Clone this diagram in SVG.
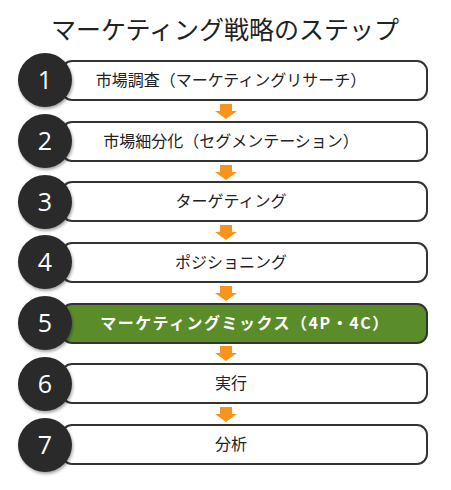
<svg xmlns="http://www.w3.org/2000/svg" width="451" height="490" viewBox="0 0 451 490">
<defs>
<style>
.box{fill:#fff;stroke:#333;stroke-width:2}
.box.g{fill:#5b8c2a;stroke:#333}
.c{fill:#2a2a2a}
.num{fill:#fff;font-family:"Open Sans","DejaVu Sans",sans-serif;font-size:25px;text-anchor:middle}
.t{fill:#222;font-family:"Noto Sans CJK JP",sans-serif;font-size:16px;text-anchor:middle}
.t.w{fill:#fff;font-weight:bold;letter-spacing:1.5px}
.arr{fill:#f7941d}
.title{fill:#222;font-family:"Noto Sans CJK JP",sans-serif;font-size:25px;text-anchor:middle}
</style>
<filter id="sh" x="-20%" y="-20%" width="150%" height="150%"><feDropShadow dx="1" dy="2" stdDeviation="1.5" flood-color="#000" flood-opacity="0.35"/></filter>
<path id="a" class="arr" d="M-6,0 h12 v7 h5 l-11,8 l-11,-8 h5 z"/>
</defs>
<rect width="451" height="490" fill="#fff"/>
<text class="title" x="225" y="39">マーケティング戦略のステップ</text>
<g id="connectors">
<use href="#a" x="226" y="104"/>
<use href="#a" x="226" y="165"/>
<use href="#a" x="226" y="225"/>
<use href="#a" x="226" y="286"/>
<use href="#a" x="226" y="346"/>
<use href="#a" x="226" y="407"/>
</g>
<g id="n1"><rect class="box" x="62" y="61" width="365" height="39" rx="10"/><circle class="c" cx="45" cy="80" r="27" filter="url(#sh)"/><text class="num" x="45" y="89">1</text><text class="t" x="231" y="86">市場調査（マーケティングリサーチ）</text></g>
<g id="n2"><rect class="box" x="62" y="122" width="365" height="39" rx="10"/><circle class="c" cx="45" cy="141" r="27" filter="url(#sh)"/><text class="num" x="45" y="150">2</text><text class="t" x="231" y="147">市場細分化（セグメンテーション）</text></g>
<g id="n3"><rect class="box" x="62" y="182" width="365" height="39" rx="10"/><circle class="c" cx="45" cy="202" r="27" filter="url(#sh)"/><text class="num" x="45" y="211">3</text><text class="t" x="231" y="207">ターゲティング</text></g>
<g id="n4"><rect class="box" x="62" y="243" width="365" height="39" rx="10"/><circle class="c" cx="45" cy="262" r="27" filter="url(#sh)"/><text class="num" x="45" y="271">4</text><text class="t" x="231" y="268">ポジショニング</text></g>
<g id="n5"><rect class="box g" x="62" y="304" width="365" height="39" rx="10"/><circle class="c" cx="45" cy="323" r="27" filter="url(#sh)"/><text class="num" x="45" y="332">5</text><text class="t w" x="245" y="329">マーケティングミックス（4P・4C）</text></g>
<g id="n6"><rect class="box" x="62" y="364" width="365" height="39" rx="10"/><circle class="c" cx="45" cy="384" r="27" filter="url(#sh)"/><text class="num" x="45" y="393">6</text><text class="t" x="231" y="389">実行</text></g>
<g id="n7"><rect class="box" x="62" y="425" width="365" height="39" rx="10"/><circle class="c" cx="45" cy="445" r="27" filter="url(#sh)"/><text class="num" x="45" y="454">7</text><text class="t" x="231" y="450">分析</text></g>
</svg>
